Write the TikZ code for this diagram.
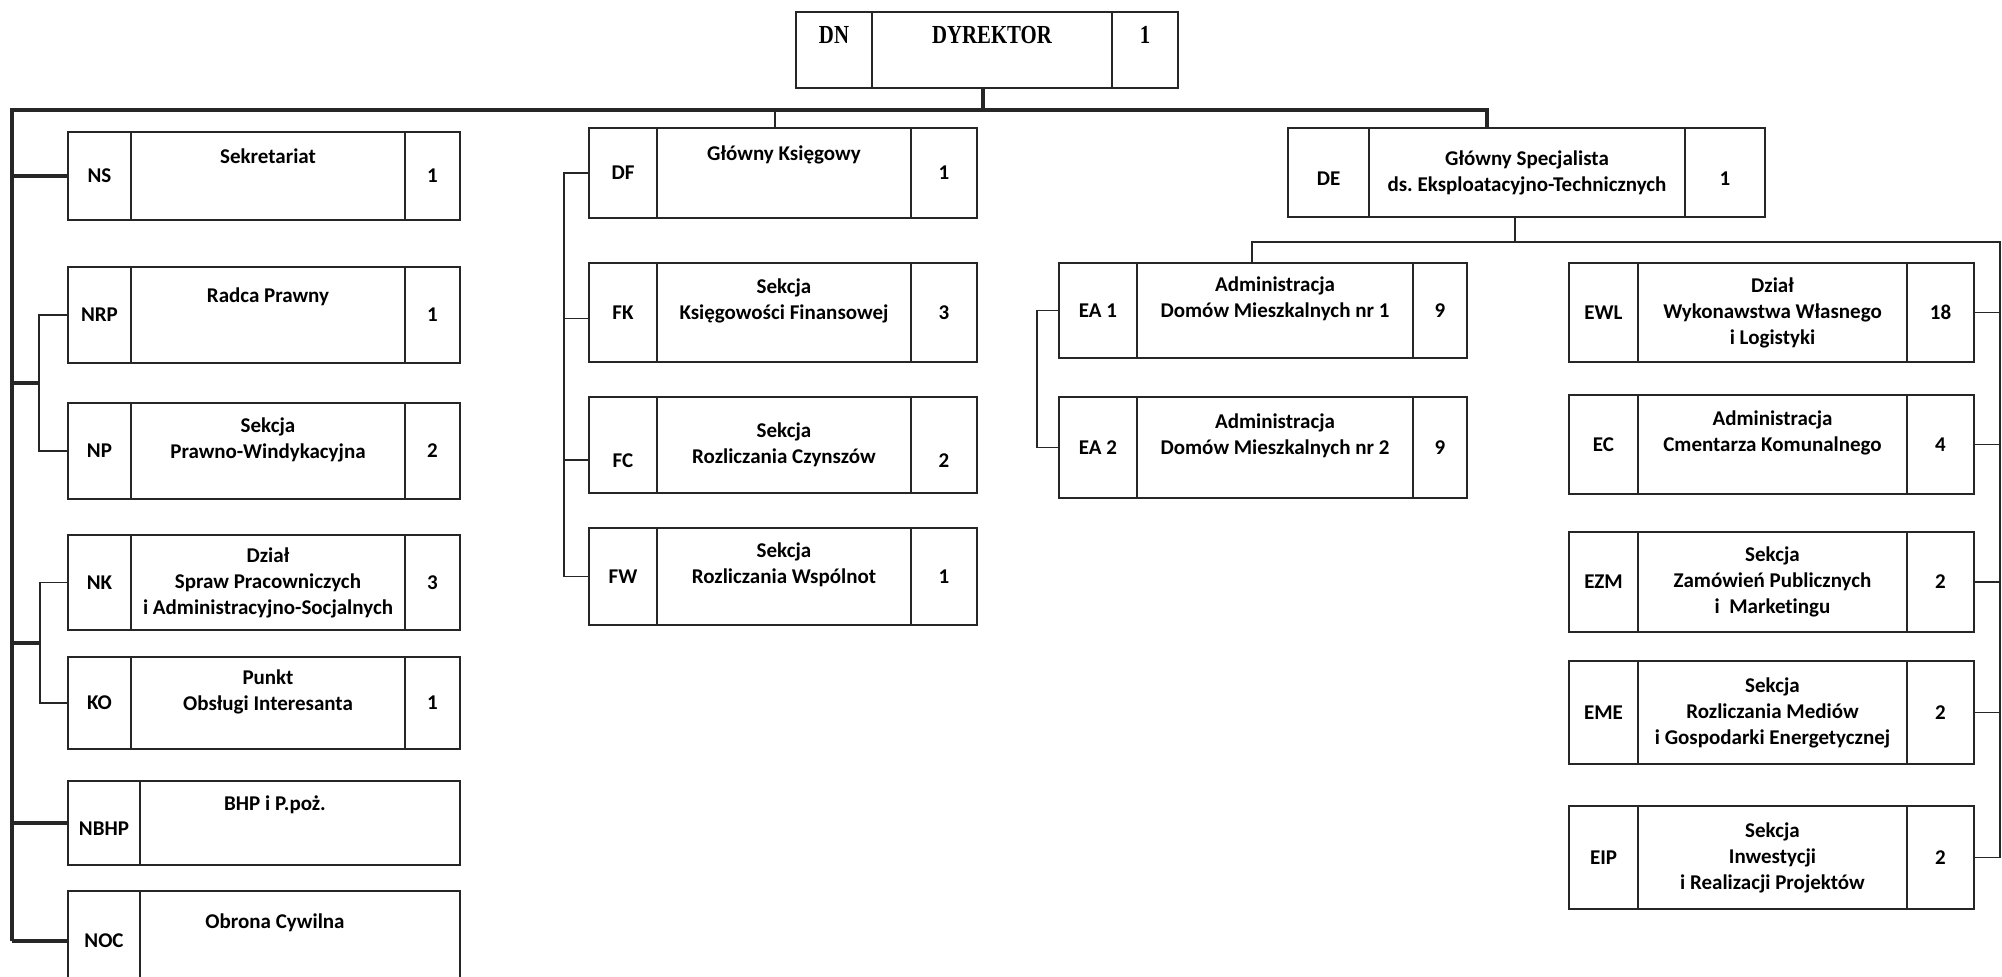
\documentclass[tikz,border=0pt]{standalone}
\usepackage{fontspec}
\setmainfont{Carlito}[Ligatures=NoCommon]
\newfontfamily\dnserif{Liberation Serif}
\usepackage{graphicx}
\usetikzlibrary{positioning,calc}
\newcommand{\cellfont}{\bfseries\fontsize{10.5}{13}\selectfont}
\newcommand{\dnfont}{\dnserif\bfseries\fontsize{13}{15}\selectfont}
\newcommand{\dnx}[1]{\scalebox{0.8}[1]{#1}}
\tikzstyle{cell}=[rectangle, draw=black!85, line width=0.9pt, inner sep=0pt, outer sep=0pt, align=flush center, text=black, font=\cellfont]
\tikzstyle{dncell}=[cell, font=\dnfont]
\tikzstyle{line}=[-, line width=0.7pt, draw=black!85]
\tikzstyle{tline}=[-, line width=2pt, draw=black!85]

\begin{document}
\begin{tikzpicture}[x=0.5pt, y=-0.5pt, node distance=0pt]
\useasboundingbox (0,0) rectangle (2002,977);
\clip (0,0) rectangle (2002,977);
\fill[white] (0,0) rectangle (2002,977);

% Dyrektor
    \node (dn-c) [dncell, anchor=north west, text width=38pt, minimum height=38pt] at (796,12) {\dnx{DN}\\\mbox{}};
    \node (dn-t) [dncell, right=0pt of dn-c, text width=120pt, minimum height=38pt] {\dnx{DYREKTOR}\\\mbox{}};
    \node (dn-n) [dncell, right=0pt of dn-t, text width=33pt, minimum height=38pt] {\dnx{1}\\\mbox{}};

% Stanowiska podlegle dyrektorowi
    \node (ns-c) [cell, anchor=north west, text width=31.5pt, minimum height=44pt] at (68,132) {NS};
    \node (ns-t) [cell, right=0pt of ns-c, text width=137pt, minimum height=44pt] {Sekretariat\\[7pt]\mbox{}};
    \node (ns-n) [cell, right=0pt of ns-t, text width=27.5pt, minimum height=44pt] {1};

    \node (nrp-c) [cell, anchor=north west, text width=31.5pt, minimum height=48pt] at (68,267) {NRP};
    \node (nrp-t) [cell, right=0pt of nrp-c, text width=137pt, minimum height=48pt] {Radca Prawny\\[7pt]\mbox{}};
    \node (nrp-n) [cell, right=0pt of nrp-t, text width=27.5pt, minimum height=48pt] {1};

    \node (np-c) [cell, anchor=north west, text width=31.5pt, minimum height=48pt] at (68,403) {NP};
    \node (np-t) [cell, right=0pt of np-c, text width=137pt, minimum height=48pt] {Sekcja\\Prawno-Windykacyjna\\\mbox{}};
    \node (np-n) [cell, right=0pt of np-t, text width=27.5pt, minimum height=48pt] {2};

    \node (nk-c) [cell, anchor=north west, text width=31.5pt, minimum height=47.5pt] at (68,535) {NK};
    \node (nk-t) [cell, right=0pt of nk-c, text width=137pt, minimum height=47.5pt] {Dział\\Spraw Pracowniczych\\i Administracyjno-Socjalnych};
    \node (nk-n) [cell, right=0pt of nk-t, text width=27.5pt, minimum height=47.5pt] {3};

    \node (ko-c) [cell, anchor=north west, text width=31.5pt, minimum height=46pt] at (68,657) {KO};
    \node (ko-t) [cell, right=0pt of ko-c, text width=137pt, minimum height=46pt] {Punkt\\Obsługi Interesanta\\\mbox{}};
    \node (ko-n) [cell, right=0pt of ko-t, text width=27.5pt, minimum height=46pt] {1};

    \node (nbhp-c) [cell, anchor=north west, text width=36pt, minimum height=42pt] at (68,781) {\mbox{}\\NBHP};
    \node (nbhp-t) [cell, right=0pt of nbhp-c, text width=160pt, minimum height=42pt] {BHP i P.poż.\hspace{25pt}\mbox{}\\[7pt]\mbox{}};

    \node (noc-c) [cell, anchor=north west, text width=36pt, minimum height=50pt] at (68,891) {NOC};
    \node (noc-t) [cell, right=0pt of noc-c, text width=160pt, minimum height=50pt] {Obrona Cywilna\hspace{25pt}\mbox{}\\[7pt]\mbox{}};

% Glowny Ksiegowy
    \node (df-c) [cell, anchor=north west, text width=34pt, minimum height=45pt] at (589,128) {DF};
    \node (df-t) [cell, right=0pt of df-c, text width=127pt, minimum height=45pt] {Główny Księgowy\\[7pt]\mbox{}};
    \node (df-n) [cell, right=0pt of df-t, text width=33pt, minimum height=45pt] {1};

    \node (fk-c) [cell, anchor=north west, text width=34pt, minimum height=49.5pt] at (589,263) {FK};
    \node (fk-t) [cell, right=0pt of fk-c, text width=127pt, minimum height=49.5pt] {Sekcja\\Księgowości Finansowej\\\mbox{}};
    \node (fk-n) [cell, right=0pt of fk-t, text width=33pt, minimum height=49.5pt] {3};

    \node (fc-c) [cell, anchor=north west, text width=34pt, minimum height=48pt] at (589,397) {\strut\\FC};
    \node (fc-t) [cell, right=0pt of fc-c, text width=127pt, minimum height=48pt] {Sekcja\\Rozliczania Czynszów};
    \node (fc-n) [cell, right=0pt of fc-t, text width=33pt, minimum height=48pt] {\strut\\2};

    \node (fw-c) [cell, anchor=north west, text width=34pt, minimum height=48.5pt] at (589,528) {FW};
    \node (fw-t) [cell, right=0pt of fw-c, text width=127pt, minimum height=48.5pt] {Sekcja\\Rozliczania Wspólnot\\\mbox{}};
    \node (fw-n) [cell, right=0pt of fw-t, text width=33pt, minimum height=48.5pt] {1};

% Glowny Specjalista
    \node (de-c) [cell, anchor=north west, text width=40.5pt, minimum height=44.5pt] at (1288,128) {\mbox{}\\DE};
    \node (de-t) [cell, right=0pt of de-c, text width=158pt, minimum height=44.5pt] {Główny Specjalista\\ds.\ Eksploatacyjno-Technicznych};
    \node (de-n) [cell, right=0pt of de-t, text width=40pt, minimum height=44.5pt] {\mbox{}\\1};

    \node (ea1-c) [cell, anchor=north west, text width=39pt, minimum height=47.5pt] at (1059,263) {EA 1};
    \node (ea1-t) [cell, right=0pt of ea1-c, text width=138pt, minimum height=47.5pt] {Administracja\\Domów Mieszkalnych nr 1\\\mbox{}};
    \node (ea1-n) [cell, right=0pt of ea1-t, text width=27pt, minimum height=47.5pt] {9};

    \node (ea2-c) [cell, anchor=north west, text width=39pt, minimum height=50.5pt] at (1059,397) {EA 2};
    \node (ea2-t) [cell, right=0pt of ea2-c, text width=138pt, minimum height=50.5pt] {Administracja\\Domów Mieszkalnych nr 2\\\mbox{}};
    \node (ea2-n) [cell, right=0pt of ea2-t, text width=27pt, minimum height=50.5pt] {9};

    \node (ewl-c) [cell, anchor=north west, text width=34.5pt, minimum height=49.5pt] at (1569,263) {EWL};
    \node (ewl-t) [cell, right=0pt of ewl-c, text width=134.5pt, minimum height=49.5pt] {Dział\\Wykonawstwa Własnego\\i Logistyki};
    \node (ewl-n) [cell, right=0pt of ewl-t, text width=33.5pt, minimum height=49.5pt] {18};

    \node (ec-c) [cell, anchor=north west, text width=34.5pt, minimum height=49.5pt] at (1569,395) {EC};
    \node (ec-t) [cell, right=0pt of ec-c, text width=134.5pt, minimum height=49.5pt] {Administracja\\Cmentarza Komunalnego\\\mbox{}};
    \node (ec-n) [cell, right=0pt of ec-t, text width=33.5pt, minimum height=49.5pt] {4};

    \node (ezm-c) [cell, anchor=north west, text width=34.5pt, minimum height=50pt] at (1569,532) {EZM};
    \node (ezm-t) [cell, right=0pt of ezm-c, text width=134.5pt, minimum height=50pt] {Sekcja\\Zamówień Publicznych\\i\ \ Marketingu};
    \node (ezm-n) [cell, right=0pt of ezm-t, text width=33.5pt, minimum height=50pt] {2};

    \node (eme-c) [cell, anchor=north west, text width=34.5pt, minimum height=51.5pt] at (1569,661) {EME};
    \node (eme-t) [cell, right=0pt of eme-c, text width=134.5pt, minimum height=51.5pt] {Sekcja\\Rozliczania Mediów\\i Gospodarki Energetycznej};
    \node (eme-n) [cell, right=0pt of eme-t, text width=33.5pt, minimum height=51.5pt] {2};

    \node (eip-c) [cell, anchor=north west, text width=34.5pt, minimum height=51.5pt] at (1569,806) {EIP};
    \node (eip-t) [cell, right=0pt of eip-c, text width=134.5pt, minimum height=51.5pt] {Sekcja\\Inwestycji\\i Realizacji Projektów};
    \node (eip-n) [cell, right=0pt of eip-t, text width=33.5pt, minimum height=51.5pt] {2};

% main trunk
    \coordinate (trunk) at (12,110);
    \draw[tline] ($(dn-t.south)+(-9,0)$) -- ($(dn-t.south |- trunk)+(-9,0)$);
    \draw[tline] (trunk |- noc-c.west) -- (trunk) -| ($(de-t.north)+(-40,0)$);
    \draw[tline] (trunk |- ns-c.west) -- (ns-c.west);
    \coordinate (nbr) at ($(nrp-c.west)!0.5!(np-c.west)+(-29,0)$);
    \draw[tline] (trunk |- nbr) -- (nbr);
    \draw[line] (nrp-c.west) -| (nbr) |- (np-c.west);
    \coordinate (kbr) at ($(nk-c.west)!0.5!(ko-c.west)+(-28,0)$);
    \draw[tline] (trunk |- kbr) -- (kbr);
    \draw[line] (nk-c.west) -| (kbr) |- (ko-c.west);
    \draw[tline] (trunk |- nbhp-c.west) -- (nbhp-c.west);
    \draw[tline] (trunk |- noc-c.west) -- (noc-c.west);

% finanse
    \draw[line] ($(df-t.north)+(-9,0)$) -- ($(df-t.north |- trunk)+(-9,0)$);
    \coordinate (fbr) at ($(df-c.west)+(-25,0)$);
    \draw[line] (df-c.west) -- (fbr) |- (fw-c.west);
    \draw[line] ($(fk-c.west)+(0,6)$) -- ($(fk-c.west -| fbr)+(0,6)$);
    \draw[line] ($(fc-c.west)+(0,15)$) -- ($(fc-c.west -| fbr)+(0,15)$);

% eksploatacja
    \coordinate (ebar) at (2000,242);
    \draw[line] ($(de-t.south)+(-12,0)$) -- ($(de-t.south |- ebar)+(-12,0)$);
    \draw[line] ($(ea1-t.north)+(-23,0)$) |- (ebar) -- (ebar |- eip-n.east);
    \draw[line] (ea1-c.west) -- ++(-22,0) |- (ea2-c.west);
    \draw[line] (ewl-n.east) -- (ewl-n.east -| ebar);
    \draw[line] (ec-n.east) -- (ec-n.east -| ebar);
    \draw[line] (ezm-n.east) -- (ezm-n.east -| ebar);
    \draw[line] (eme-n.east) -- (eme-n.east -| ebar);
    \draw[line] (eip-n.east) -- (eip-n.east -| ebar);

\end{tikzpicture}
\end{document}
